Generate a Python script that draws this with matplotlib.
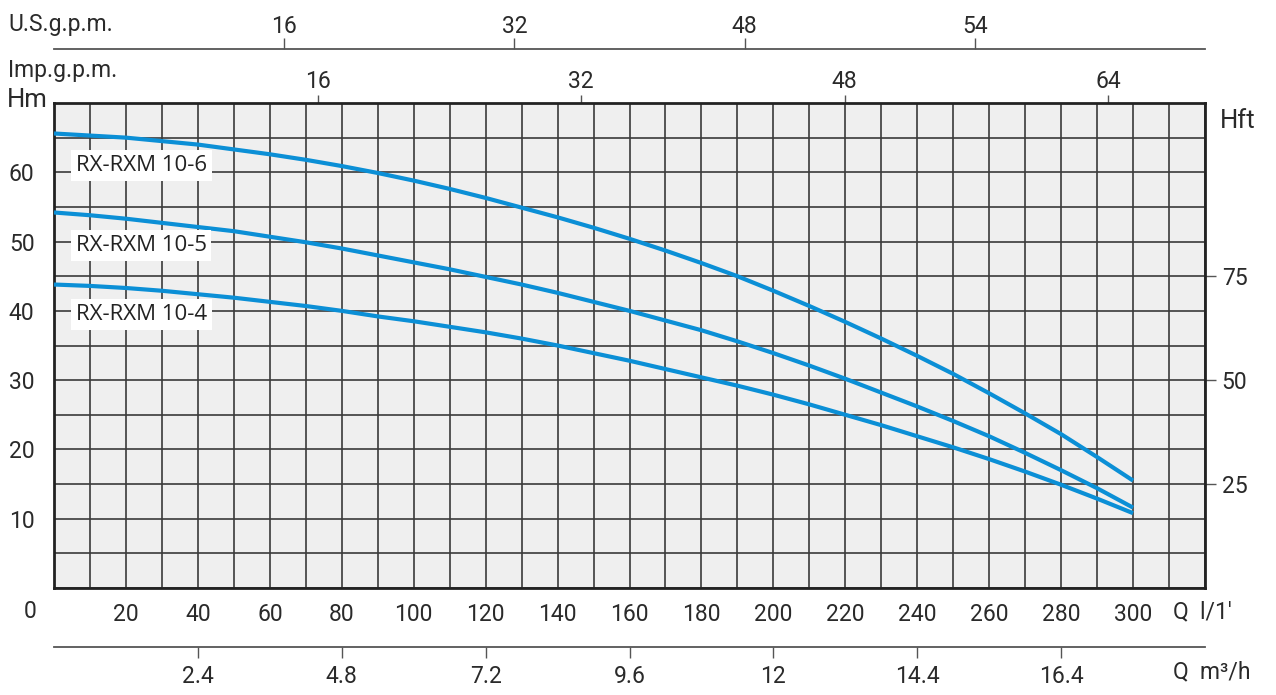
import numpy as np
import matplotlib.pyplot as plt

plt.rcParams['font.family'] = ['Roboto', 'DejaVu Sans']

# flow in l/min and head in m for the three pumps
q = [0, 10, 20, 30, 40, 50, 60, 70, 80, 90, 100, 110, 120, 130, 140, 150,
     160, 170, 180, 190, 200, 210, 220, 230, 240, 250, 260, 270, 280, 290, 300]
h_106 = [65.6, 65.3, 65.0, 64.5, 64.0, 63.3, 62.6, 61.8, 60.9, 59.9, 58.8,
         57.6, 56.3, 54.9, 53.5, 52.0, 50.4, 48.7, 46.9, 45.0, 42.9, 40.7,
         38.4, 36.0, 33.5, 30.9, 28.1, 25.2, 22.2, 18.9, 15.5]
h_105 = [54.2, 53.8, 53.3, 52.7, 52.1, 51.5, 50.7, 49.9, 49.0, 48.0, 47.0,
         46.0, 44.9, 43.8, 42.6, 41.3, 40.0, 38.6, 37.2, 35.6, 33.9, 32.1,
         30.2, 28.2, 26.2, 24.1, 21.9, 19.5, 17.0, 14.4, 11.6]
h_104 = [43.8, 43.6, 43.3, 42.9, 42.4, 41.9, 41.3, 40.7, 40.0, 39.2, 38.5,
         37.7, 36.9, 36.0, 35.0, 33.9, 32.8, 31.6, 30.4, 29.2, 27.9, 26.5,
         25.0, 23.5, 21.9, 20.3, 18.6, 16.8, 14.9, 12.9, 10.8]
names = ["RX-RXM 10-6", "RX-RXM 10-5", "RX-RXM 10-4"]
label_h = [61.0, 49.4, 39.5]

q_ticks = np.arange(20, 301, 20)
h_ticks = np.arange(10, 61, 10)
imp_ticks = [16, 32, 48, 64]
us_ticks = [16, 32, 48, 64]
us_labels = ["16", "32", "48", "54"]
m3_ticks = [2.4, 4.8, 7.2, 9.6, 12, 14.4, 16.8]
m3_labels = ["2.4", "4.8", "7.2", "9.6", "12", "14.4", "16.4"]
ft_ticks = [25, 50, 75]

W, H = 1276, 695
txt = "#2a2a2a"
blue = "#0b8fd6"
fs = 16.5
fig = plt.figure(figsize=(W / 100, H / 100), dpi=100)
L, R = 54 / W, 1205 / W
ax = fig.add_axes([L, (H - 588) / H, R - L, (588 - 103) / H])
ax.set_facecolor("#efefef")
ax.set_xlim(0, 320)
ax.set_ylim(0, 70)
ax.set_xticks(q_ticks)
ax.set_xticks(np.arange(0, 321, 10), minor=True)
ax.set_yticks(h_ticks)
ax.set_yticks(np.arange(0, 71, 5), minor=True)
ax.grid(True, which="both", color="#3a3a3a", lw=1.2)
ax.set_axisbelow(True)
ax.tick_params(which="both", length=0)
ax.tick_params(axis="x", pad=11, labelsize=fs, labelcolor=txt)
ax.tick_params(axis="y", pad=14, labelsize=fs, labelcolor=txt)
for s in ax.spines.values():
    s.set_linewidth(2.0)
    s.set_color("#222222")

for hh, name, ly in zip([h_106, h_105, h_104], names, label_h):
    ax.plot(q, hh, color=blue, lw=3.0, solid_capstyle="butt", zorder=3)
    ax.text(6, ly, name, fontsize=16, color="#222222", family=["Open Sans", "DejaVu Sans"],
            va="center", ha="left", zorder=4,
            bbox=dict(facecolor="white", edgecolor="none", pad=3.5))

# Imp.g.p.m. on top of the frame
imp = ax.secondary_xaxis("top", functions=(lambda x: x / 4.58, lambda g: g * 4.58))
imp.set_xticks(imp_ticks)
imp.tick_params(length=6, width=1, color="#555555", pad=1, labelsize=fs, labelcolor=txt)
imp.spines["top"].set_visible(False)

# Hft on the right
ft = ax.secondary_yaxis("right", functions=(lambda m: m * 5 / 3, lambda f: f * 0.6))
ft.set_yticks(ft_ticks)
ft.tick_params(length=8, width=1, color="#555555", pad=4, labelsize=fs, labelcolor=txt)
ft.spines["right"].set_visible(False)

# U.S.g.p.m. line above
ax_us = fig.add_axes([L, (H - 49) / H, R - L, 0.0001])
ax_us.set_xlim(0, 320 / 4.0)
ax_us.set_yticks([])
ax_us.xaxis.tick_top()
ax_us.set_xticks(us_ticks)
ax_us.set_xticklabels(us_labels)
ax_us.tick_params(length=8, width=1, color="#555555", pad=0, labelsize=fs, labelcolor=txt)
for k in ["left", "right", "bottom"]:
    ax_us.spines[k].set_visible(False)
ax_us.spines["top"].set_color("#555555")
ax_us.spines["top"].set_linewidth(1.3)
ax_us.patch.set_visible(False)

# m3/h line below
ax_m3 = fig.add_axes([L, (H - 647) / H, R - L, 0.0001])
ax_m3.set_xlim(0, 320 / 16.667)
ax_m3.set_yticks([])
ax_m3.set_xticks(m3_ticks)
ax_m3.set_xticklabels(m3_labels)
ax_m3.tick_params(length=8, width=1, color="#555555", pad=5, labelsize=fs, labelcolor=txt)
for k in ["left", "right", "top"]:
    ax_m3.spines[k].set_visible(False)
ax_m3.spines["bottom"].set_color("#555555")
ax_m3.spines["bottom"].set_linewidth(1.3)
ax_m3.patch.set_visible(False)

fig.text(8 / W, 1 - 25 / H, "U.S.g.p.m.", fontsize=fs, color=txt, va="center")
fig.text(8 / W, 1 - 70 / H, "Imp.g.p.m.", fontsize=fs, color=txt, va="center")
fig.text(7 / W, 1 - 100 / H, "Hm", fontsize=18.5, color=txt, va="center")
fig.text(1220 / W, 1 - 121 / H, "Hft", fontsize=18.5, color=txt, va="center")
fig.text(30 / W, 1 - 612 / H, "0", fontsize=fs, color=txt, va="center", ha="center")
fig.text(1173 / W, 1 - 612 / H, "Q  l/1\u2032", fontsize=fs, color=txt, va="center")
fig.text(1173 / W, 1 - 672 / H, "Q  m\u00b3/h", fontsize=fs, color=txt, va="center")

fig.savefig("out.png", dpi=100)
